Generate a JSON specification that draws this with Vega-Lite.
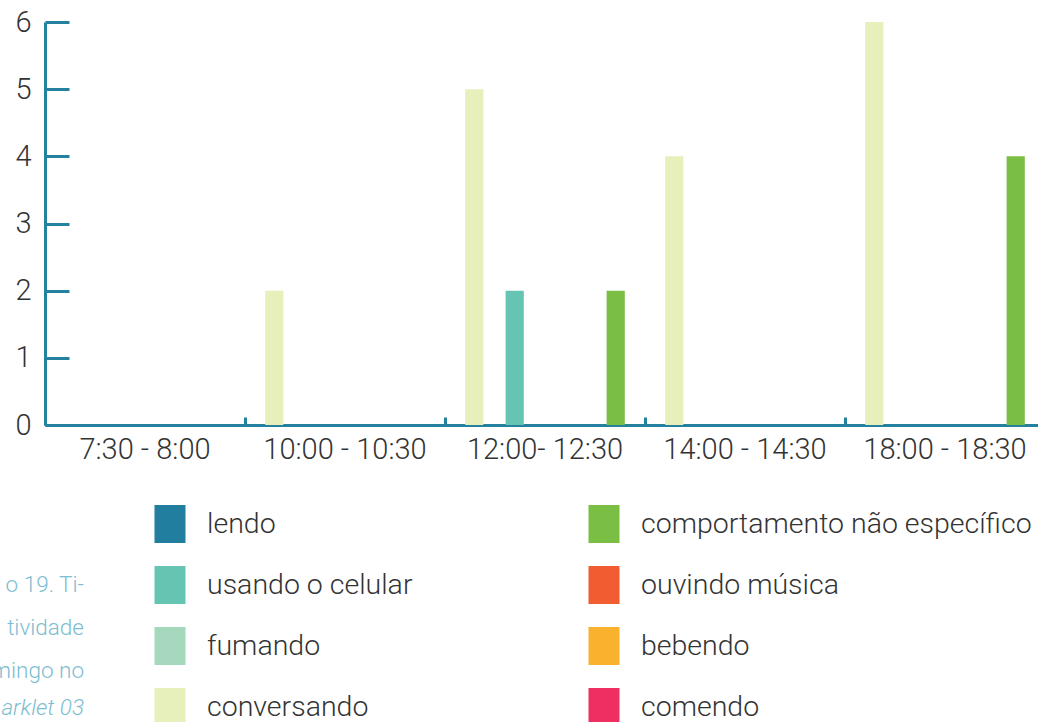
{
  "$schema": "https://vega.github.io/schema/vega-lite/v6.json",
  "autosize": "none",
  "width": 993,
  "height": 403,
  "padding": {"left": 45, "top": 22, "right": 0, "bottom": 297},
  "title": {
    "text": ["o 19. Ti-", "tividade", "mingo no"],
    "subtitle": "arklet 03",
    "orient": "top",
    "anchor": "start",
    "frame": "group",
    "align": "right",
    "baseline": "top",
    "dx": 39,
    "dy": 711,
    "offset": 0,
    "font": "Roboto",
    "fontWeight": 300,
    "fontSize": 22.5,
    "lineHeight": 43,
    "color": "#7DBDD0",
    "subtitleFont": "Roboto",
    "subtitleFontWeight": 300,
    "subtitleFontSize": 22.5,
    "subtitleFontStyle": "italic",
    "subtitleColor": "#7DBDD0",
    "subtitleLineHeight": 42,
    "subtitlePadding": 14
  },
  "data": {
    "values": [
      {"periodo": "7:30 - 8:00", "atividade": "conversando", "n": 0},
      {"periodo": "7:30 - 8:00", "atividade": "lendo", "n": 0},
      {"periodo": "7:30 - 8:00", "atividade": "usando o celular", "n": 0},
      {"periodo": "7:30 - 8:00", "atividade": "fumando", "n": 0},
      {"periodo": "7:30 - 8:00", "atividade": "ouvindo música", "n": 0},
      {"periodo": "7:30 - 8:00", "atividade": "bebendo", "n": 0},
      {"periodo": "7:30 - 8:00", "atividade": "comendo", "n": 0},
      {"periodo": "7:30 - 8:00", "atividade": "comportamento não específico", "n": 0},
      {"periodo": "10:00 - 10:30", "atividade": "conversando", "n": 2},
      {"periodo": "10:00 - 10:30", "atividade": "lendo", "n": 0},
      {"periodo": "10:00 - 10:30", "atividade": "usando o celular", "n": 0},
      {"periodo": "10:00 - 10:30", "atividade": "fumando", "n": 0},
      {"periodo": "10:00 - 10:30", "atividade": "ouvindo música", "n": 0},
      {"periodo": "10:00 - 10:30", "atividade": "bebendo", "n": 0},
      {"periodo": "10:00 - 10:30", "atividade": "comendo", "n": 0},
      {"periodo": "10:00 - 10:30", "atividade": "comportamento não específico", "n": 0},
      {"periodo": "12:00- 12:30", "atividade": "conversando", "n": 5},
      {"periodo": "12:00- 12:30", "atividade": "lendo", "n": 0},
      {"periodo": "12:00- 12:30", "atividade": "usando o celular", "n": 2},
      {"periodo": "12:00- 12:30", "atividade": "fumando", "n": 0},
      {"periodo": "12:00- 12:30", "atividade": "ouvindo música", "n": 0},
      {"periodo": "12:00- 12:30", "atividade": "bebendo", "n": 0},
      {"periodo": "12:00- 12:30", "atividade": "comendo", "n": 0},
      {"periodo": "12:00- 12:30", "atividade": "comportamento não específico", "n": 2},
      {"periodo": "14:00 - 14:30", "atividade": "conversando", "n": 4},
      {"periodo": "14:00 - 14:30", "atividade": "lendo", "n": 0},
      {"periodo": "14:00 - 14:30", "atividade": "usando o celular", "n": 0},
      {"periodo": "14:00 - 14:30", "atividade": "fumando", "n": 0},
      {"periodo": "14:00 - 14:30", "atividade": "ouvindo música", "n": 0},
      {"periodo": "14:00 - 14:30", "atividade": "bebendo", "n": 0},
      {"periodo": "14:00 - 14:30", "atividade": "comendo", "n": 0},
      {"periodo": "14:00 - 14:30", "atividade": "comportamento não específico", "n": 0},
      {"periodo": "18:00 - 18:30", "atividade": "conversando", "n": 6},
      {"periodo": "18:00 - 18:30", "atividade": "lendo", "n": 0},
      {"periodo": "18:00 - 18:30", "atividade": "usando o celular", "n": 0},
      {"periodo": "18:00 - 18:30", "atividade": "fumando", "n": 0},
      {"periodo": "18:00 - 18:30", "atividade": "ouvindo música", "n": 0},
      {"periodo": "18:00 - 18:30", "atividade": "bebendo", "n": 0},
      {"periodo": "18:00 - 18:30", "atividade": "comendo", "n": 0},
      {"periodo": "18:00 - 18:30", "atividade": "comportamento não específico", "n": 4}
    ]
  },
  "mark": {"type": "bar"},
  "encoding": {
    "x": {
      "field": "periodo",
      "type": "nominal",
      "sort": ["7:30 - 8:00", "10:00 - 10:30", "12:00- 12:30", "14:00 - 14:30", "18:00 - 18:30"],
      "scale": {"range": [0, 1000], "paddingInner": 0, "paddingOuter": 0},
      "axis": {
        "title": null,
        "labelAngle": 0,
        "bandPosition": 0,
        "tickSize": -8,
        "labelPadding": 18,
        "domainColor": "#2581A0",
        "domainWidth": 3,
        "tickColor": "#2581A0",
        "tickWidth": 3
      }
    },
    "xOffset": {
      "field": "atividade",
      "type": "nominal",
      "sort": ["conversando", "lendo", "usando o celular", "fumando", "ouvindo música", "bebendo", "comendo", "comportamento não específico"],
      "scale": {"paddingInner": 0.1, "paddingOuter": 1.05}
    },
    "y": {
      "field": "n",
      "type": "quantitative",
      "scale": {"domain": [0, 6], "nice": false},
      "axis": {
        "title": null,
        "values": [0, 1, 2, 3, 4, 5, 6],
        "grid": false,
        "labelFlush": false,
        "tickSize": -24,
        "labelPadding": 38,
        "domainColor": "#2581A0",
        "domainWidth": 3,
        "tickColor": "#2581A0",
        "tickWidth": 3
      }
    },
    "color": {
      "field": "atividade",
      "type": "nominal",
      "scale": {
        "domain": ["lendo", "usando o celular", "fumando", "conversando", "comportamento não específico", "ouvindo música", "bebendo", "comendo"],
        "range": ["#217E9E", "#66C4B3", "#A6D8BD", "#E7EFBB", "#7ABF43", "#F15D31", "#FAB12D", "#EF2F61"]
      },
      "legend": {
        "title": null,
        "orient": "none",
        "legendX": 106,
        "legendY": 483,
        "columns": 2,
        "columnPadding": 172,
        "rowPadding": 23,
        "padding": 0,
        "symbolType": "M-0.816,-1H0.816V1H-0.816Z",
        "symbolSize": 1444,
        "symbolStrokeWidth": 0,
        "symbolOpacity": 1,
        "labelOffset": 18,
        "labelLimit": 600,
        "labelFontSize": 28.5,
        "labelColor": "#333333",
        "labelFont": "Roboto",
        "labelFontWeight": 300
      }
    }
  },
  "config": {
    "view": {"stroke": null},
    "font": "Roboto",
    "axis": {
      "labelFont": "Roboto",
      "labelFontWeight": 300,
      "labelFontSize": 29,
      "labelColor": "#333333"
    }
  }
}
